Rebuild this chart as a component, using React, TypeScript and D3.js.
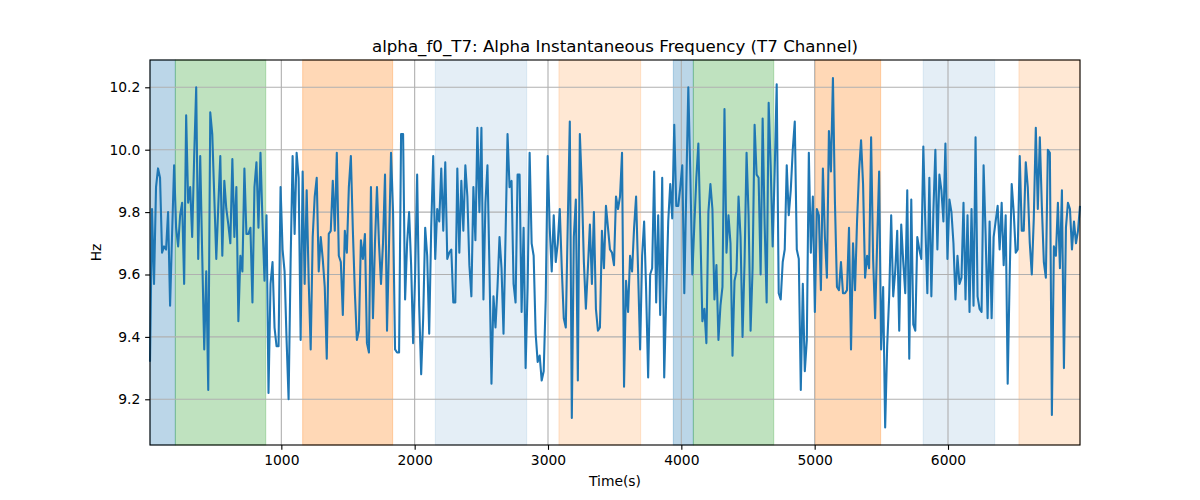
import { useEffect, useRef } from 'react';
import * as d3 from 'd3';

const tStart = 15;
const tEnd = 6990;

const freqHz = [
  9.32, 9.81, 9.57, 9.88, 9.94, 9.91, 9.67, 9.69, 9.68, 9.80, 9.50, 9.73, 9.95, 9.75, 9.69, 9.79, 9.83, 9.57, 10.11, 9.83,
  9.88, 9.72, 9.98, 10.20, 9.65, 9.98, 9.66, 9.36, 9.61, 9.23, 10.12, 10.05, 9.85, 9.65, 9.82, 9.98, 9.66, 9.90, 9.81, 9.76,
  9.70, 9.97, 9.72, 9.88, 9.45, 9.66, 9.61, 9.94, 9.73, 9.73, 9.75, 9.51, 9.88, 9.96, 9.75,
  9.99, 9.77, 9.58, 9.79, 9.22, 9.57, 9.64, 9.43, 9.37, 9.37, 9.88, 9.68, 9.61, 9.39, 9.20, 9.64, 9.98, 9.73, 9.99, 9.91,
  9.39, 9.93, 9.57, 9.87, 9.58, 9.36, 9.72, 9.85, 9.91, 9.61, 9.72, 9.65, 9.56, 9.33, 9.73, 9.74, 9.90, 9.74, 9.99, 9.66,
  9.64, 9.47, 9.74, 9.67, 9.88, 9.98, 9.74, 9.54, 9.39, 9.42, 9.71, 9.65, 9.73, 9.38, 9.35, 9.88, 9.46,
  9.70, 9.88, 9.70, 9.57, 9.70, 9.92, 9.42, 9.70, 9.99, 9.80, 9.36, 9.35, 9.35, 10.05, 10.05, 9.52, 9.70, 9.80, 9.63, 9.38,
  9.60, 9.92, 9.50, 9.28, 9.46, 9.75, 9.66, 9.41, 9.75, 9.98, 9.65, 9.81, 9.77, 9.94, 9.74, 9.96, 9.65, 9.67, 9.68, 9.51,
  9.51, 9.94, 9.67, 9.90, 9.74, 9.95, 9.85, 9.63, 9.53, 9.88, 9.71, 10.07, 9.80, 10.07, 9.52, 9.83, 9.95,
  9.62, 9.25, 9.53, 9.43, 9.56, 9.72, 9.62, 9.41, 9.72, 10.05, 9.88, 9.90, 9.57, 9.51, 9.92, 9.92, 9.48, 9.75, 9.30, 9.56,
  9.99, 9.70, 9.66, 9.41, 9.32, 9.34, 9.26, 9.29, 9.52, 9.98, 9.75, 9.61, 9.79, 9.64, 9.70, 9.81, 9.62, 9.46, 9.43, 9.77,
  10.09, 9.14, 9.72, 9.84, 9.26, 10.05, 9.88, 9.64, 9.49, 9.62, 9.76, 9.57, 9.80, 9.49, 9.42, 9.43, 9.74,
  9.62, 9.82, 9.75, 9.68, 9.67, 9.63, 9.85, 9.81, 9.85, 9.99, 9.24, 9.58, 9.48, 9.66, 9.61, 9.75, 9.85, 9.61, 9.36, 9.66,
  9.77, 9.55, 9.27, 9.60, 9.62, 9.93, 9.51, 9.79, 9.47, 9.91, 9.27, 9.53, 9.77, 9.89, 9.78, 10.08, 9.82, 9.82, 9.88, 9.95,
  9.54, 9.88, 10.20, 9.92, 9.60, 9.76, 9.91, 10.02, 9.74, 9.45, 9.49, 9.38, 9.80, 9.89, 9.81, 9.52, 9.63, 9.39,
  9.50, 9.56, 10.13, 9.67, 9.79, 9.70, 9.34, 9.58, 9.61, 9.85, 9.72, 9.40, 9.64, 9.99, 9.79, 9.42, 9.62, 10.08, 9.92, 9.91,
  9.60, 10.10, 9.76, 9.51, 10.15, 9.95, 9.69, 9.93, 10.21, 9.54, 9.52, 9.64, 9.68, 9.95, 9.79, 9.87, 10.00, 10.09, 9.68, 9.65,
  9.23, 9.57, 9.29, 9.39, 9.99, 9.67, 9.85, 9.48, 9.81, 9.79, 9.55, 9.94, 9.72, 9.59, 10.06, 9.93, 10.23,
  9.83, 9.56, 9.55, 9.64, 9.54, 9.54, 9.55, 9.75, 9.36, 9.70, 9.55, 9.77, 9.93, 10.03, 9.89, 9.59, 9.66, 9.62, 10.04, 9.65,
  9.46, 9.70, 9.93, 9.36, 9.56, 9.11, 9.37, 9.53, 9.79, 9.53, 9.61, 9.74, 9.42, 9.76, 9.64, 9.54, 9.87, 9.33, 9.84, 9.44,
  9.42, 9.72, 9.68, 9.65, 10.01, 9.76, 9.54, 9.91, 9.53, 9.80, 10.00, 9.68, 9.92, 9.87, 9.77, 10.02, 9.65, 9.84,
  9.80, 9.70, 9.52, 9.66, 9.57, 9.59, 9.83, 9.52, 9.79, 9.48, 9.81, 9.50, 10.04, 9.53, 9.49, 9.48, 9.95, 9.73, 9.46, 9.77,
  9.46, 9.72, 9.77, 9.82, 9.68, 9.83, 9.63, 9.79, 9.25, 9.60, 9.89, 9.80, 9.67, 9.68, 9.98, 9.74, 9.74, 9.96, 9.88, 9.70,
  9.60, 9.78, 10.07, 9.81, 10.04, 9.82, 9.64, 9.59, 10.00, 9.99, 9.15, 9.69, 9.66, 9.83, 9.62, 9.87, 9.30, 9.75, 9.83, 9.81,
  9.68, 9.77, 9.70, 9.74, 9.82,
];

// shaded intervals: start, end, colour, opacity
const spanStarts = [15, 205, 1160, 2155, 3082, 3940, 4090, 5005, 5814, 6532];
const spanEnds = [205, 883, 1835, 2840, 3695, 4090, 4693, 5495, 6350, 6990];
const spanColors = ['#1f77b4', '#2ca02c', '#ff7f0e', '#1f77b4', '#ff7f0e', '#1f77b4', '#2ca02c', '#ff7f0e', '#1f77b4', '#ff7f0e'];
const spanAlphas = [0.3, 0.3, 0.3, 0.12, 0.18, 0.3, 0.3, 0.3, 0.12, 0.18];

const xTicks = [1000, 2000, 3000, 4000, 5000, 6000];
const yTicks = [9.2, 9.4, 9.6, 9.8, 10.0, 10.2];

const W = 1200;
const H = 500;
const m = { left: 150, right: 120, top: 60, bottom: 55 };
const FONT = 'DejaVu Sans, sans-serif';
const PT = 100 / 72;

function App() {
  const svgRef = useRef(null);

  useEffect(() => {
    const svg = d3.select(svgRef.current);
    svg.selectAll('*').remove();

    const x = d3.scaleLinear().domain([tStart, tEnd]).range([m.left, W - m.right]);
    const y = d3.scaleLinear().domain([9.0535, 10.2875]).range([H - m.bottom, m.top]);

    const step = (tEnd - tStart) / (freqHz.length - 1);
    const pts = freqHz.map((v, i) => [tStart + i * step, v]);

    const spans = spanStarts.map((s, i) => ({ s, e: spanEnds[i], c: spanColors[i], a: spanAlphas[i] }));
    svg
      .append('g')
      .selectAll('rect')
      .data(spans)
      .join('rect')
      .attr('x', d => x(d.s))
      .attr('width', d => x(d.e) - x(d.s))
      .attr('y', m.top)
      .attr('height', H - m.bottom - m.top)
      .attr('fill', d => d.c)
      .attr('fill-opacity', d => d.a)
      .attr('stroke', d => d.c)
      .attr('stroke-opacity', d => d.a)
      .attr('stroke-width', 1);

    // grid
    const grid = svg.append('g').attr('stroke', '#b0b0b0').attr('stroke-width', 0.8 * PT);
    grid
      .selectAll('.gx')
      .data(xTicks)
      .join('line')
      .attr('x1', d => x(d))
      .attr('x2', d => x(d))
      .attr('y1', m.top)
      .attr('y2', H - m.bottom);
    grid
      .selectAll('.gy')
      .data(yTicks)
      .join('line')
      .attr('y1', d => y(d))
      .attr('y2', d => y(d))
      .attr('x1', m.left)
      .attr('x2', W - m.right);

    svg
      .append('path')
      .datum(pts)
      .attr('fill', 'none')
      .attr('stroke', '#1f77b4')
      .attr('stroke-width', 1.5 * PT)
      .attr('stroke-linejoin', 'round')
      .attr('d', d3.line().x(d => x(d[0])).y(d => y(d[1])));

    // frame
    svg
      .append('rect')
      .attr('x', m.left)
      .attr('y', m.top)
      .attr('width', W - m.left - m.right)
      .attr('height', H - m.top - m.bottom)
      .attr('fill', 'none')
      .attr('stroke', '#000')
      .attr('stroke-width', 0.8 * PT);

    const xAxis = svg
      .append('g')
      .attr('transform', `translate(0,${H - m.bottom})`)
      .call(d3.axisBottom(x).tickValues(xTicks).tickSize(3.5 * PT).tickPadding(3.5 * PT).tickFormat(d3.format('d')));
    const yAxis = svg
      .append('g')
      .attr('transform', `translate(${m.left},0)`)
      .call(d3.axisLeft(y).tickValues(yTicks).tickSize(3.5 * PT).tickPadding(3.5 * PT).tickFormat(d3.format('.1f')));
    [xAxis, yAxis].forEach(a => {
      a.select('.domain').remove();
      a.selectAll('line').attr('stroke', '#000').attr('stroke-width', 0.8 * PT);
      a.selectAll('text').attr('fill', '#000').style('font-family', FONT).style('font-size', `${10 * PT}px`);
    });

    svg
      .append('text')
      .attr('x', (m.left + W - m.right) / 2)
      .attr('y', 52)
      .attr('text-anchor', 'middle')
      .style('font-family', FONT)
      .style('font-size', `${12 * PT}px`)
      .text('alpha_f0_T7: Alpha Instantaneous Frequency (T7 Channel)');

    svg
      .append('text')
      .attr('x', (m.left + W - m.right) / 2)
      .attr('y', 486)
      .attr('text-anchor', 'middle')
      .style('font-family', FONT)
      .style('font-size', `${10 * PT}px`)
      .text('Time(s)');

    svg
      .append('text')
      .attr('transform', `translate(101,${(m.top + H - m.bottom) / 2}) rotate(-90)`)
      .attr('text-anchor', 'middle')
      .style('font-family', FONT)
      .style('font-size', `${10 * PT}px`)
      .text('Hz');
  }, []);

  return (
    <div id="plot-container" style={{ position: 'absolute', left: 0, top: 0 }}>
      <svg ref={svgRef} width={W} height={H} style={{ display: 'block', background: '#fff' }} />
    </div>
  );
}

export default App;
